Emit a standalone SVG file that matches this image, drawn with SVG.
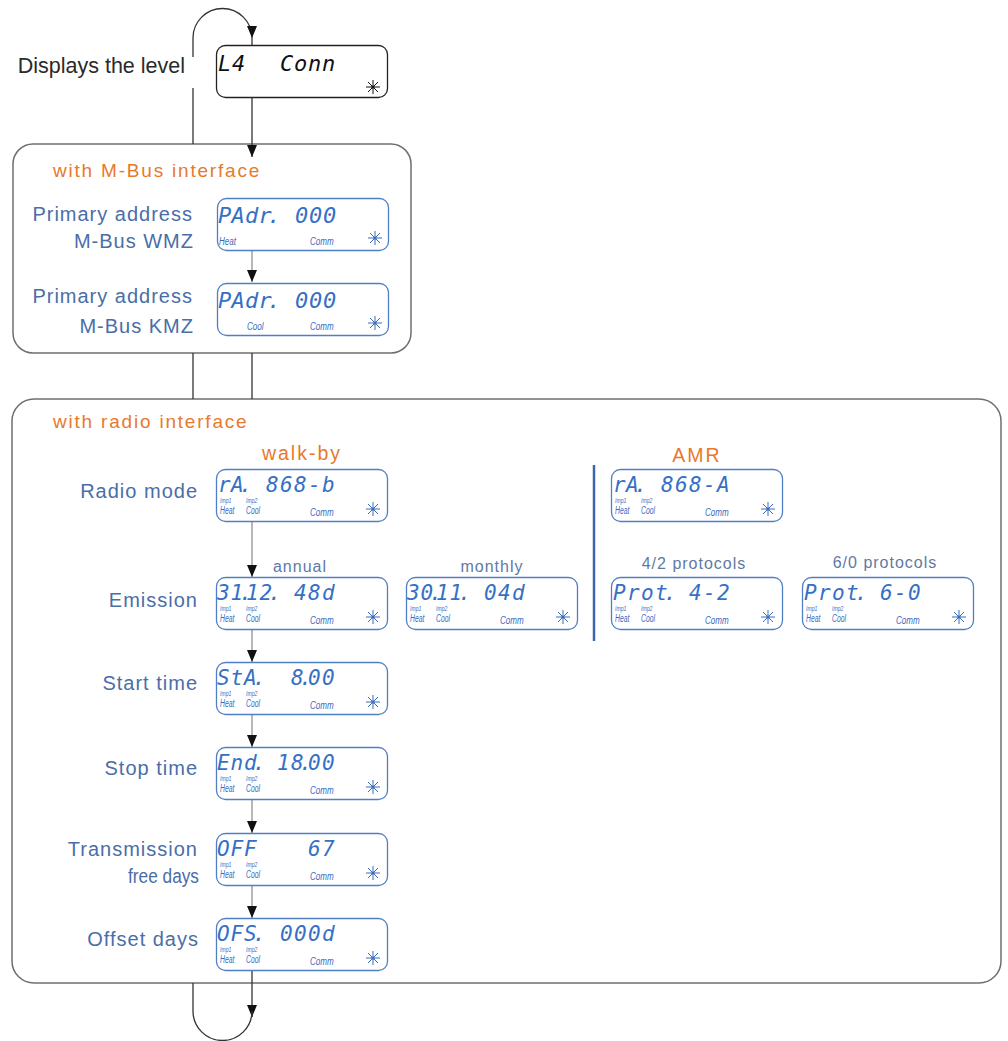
<svg xmlns="http://www.w3.org/2000/svg" xmlns:xlink="http://www.w3.org/1999/xlink" width="1008" height="1041" viewBox="0 0 1008 1041">
<style>
.frame{fill:#fff;stroke:#6f6f73;stroke-width:1.5}
.disp{fill:#fff;stroke:#4f7fc4;stroke-width:1.3}
.dispk{fill:#fff;stroke:#222;stroke-width:1.3}
.lcd{font-family:"DejaVu Sans Mono",monospace;font-style:italic;font-size:22px;fill:#3570c6}
.lcdr{font-family:"DejaVu Sans Mono",monospace;font-style:italic;font-size:21px;fill:#3570c6}
.lcdk{font-family:"DejaVu Sans Mono",monospace;font-style:italic;font-size:22px;fill:#111}
.sm{font-family:"Liberation Sans",Arial,sans-serif;font-style:italic;font-size:11.5px;fill:#3a6bbf}
.sr{font-family:"Liberation Sans",Arial,sans-serif;font-style:italic;font-size:10px;fill:#3a6bbf}
.si{font-family:"Liberation Sans",Arial,sans-serif;font-style:italic;font-size:7.5px;fill:#3a6bbf}
.lbl{font-family:"Liberation Sans",Arial,sans-serif;font-size:20px;letter-spacing:1px;fill:#4a6ea8;text-anchor:end}
.sub{font-family:"Liberation Sans",Arial,sans-serif;font-size:16px;letter-spacing:1px;fill:#5f7aa3;text-anchor:middle}
.org{font-family:"Liberation Sans",Arial,sans-serif;font-size:19px;letter-spacing:1.8px;fill:#e8792c}
.orgc{font-family:"Liberation Sans",Arial,sans-serif;font-size:19.5px;letter-spacing:2px;fill:#e8792c;text-anchor:middle}
.ln{fill:none;stroke:#333;stroke-width:1.3}
.lg{fill:none;stroke:#888;stroke-width:1.2}
</style>
<defs>
<marker id="ah" markerUnits="userSpaceOnUse" viewBox="0 0 12 10" markerWidth="12" markerHeight="10" refX="12" refY="5" orient="auto">
<path d="M0,0 L12,5 L0,10 z" fill="#111"/>
</marker>
<g id="star" style="stroke:currentColor;stroke-width:1">
<line x1="-7" y1="0" x2="7" y2="0"/>
<line x1="0" y1="-7" x2="0" y2="7"/>
<line x1="-5" y1="-5" x2="5" y2="5"/>
<line x1="-5" y1="5" x2="5" y2="-5"/>
<circle r="1.6" fill="currentColor" stroke="none"/>
</g>
</defs>

<!-- frames -->
<g id="mbus-box">
<rect class="frame" x="13" y="144" width="398" height="209" rx="20"/>
<text class="org" x="53" y="177">with M-Bus interface</text>
</g>
<g id="radio-box">
<rect class="frame" x="12" y="399" width="989" height="584" rx="22"/>
<text class="org" x="53" y="428">with radio interface</text>
<text class="orgc" x="302" y="460">walk-by</text>
<text class="orgc" x="697" y="462">AMR</text>
<line x1="594" y1="465" x2="594" y2="641" stroke="#3d66a8" stroke-width="2.5"/>
<text class="sub" x="300" y="572">annual</text>
<text class="sub" x="492" y="572">monthly</text>
<text class="sub" x="694" y="569">4/2 protocols</text>
<text class="sub" x="885" y="568">6/0 protocols</text>
</g>

<!-- labels -->
<g id="labels">
<text x="185" y="73" font-family="'Liberation Sans',Arial,sans-serif" font-size="21.5" fill="#2a2a2a" text-anchor="end">Displays the level</text>
<text class="lbl" x="193" y="221">Primary address</text>
<text class="lbl" x="194" y="248">M-Bus WMZ</text>
<text class="lbl" x="193" y="303">Primary address</text>
<text class="lbl" x="194" y="333">M-Bus KMZ</text>
<text class="lbl" x="198" y="498">Radio mode</text>
<text class="lbl" x="198" y="607">Emission</text>
<text class="lbl" x="198" y="690">Start time</text>
<text class="lbl" x="198" y="775">Stop time</text>
<text class="lbl" x="198" y="856">Transmission</text>
<text class="lbl" x="199" y="883" textLength="71" lengthAdjust="spacingAndGlyphs" style="letter-spacing:0">free days</text>
<text class="lbl" x="199" y="946">Offset days</text>
</g>

<!-- connectors -->
<g id="connectors">
<path class="ln" d="M193,57 L193,38 A29.5,29.5 0 0 1 252,38" marker-end="url(#ah)"/>
<line class="ln" x1="193" y1="88" x2="193" y2="144"/>
<line class="ln" x1="252" y1="38" x2="252" y2="157" marker-end="url(#ah)"/>
<line class="lg" x1="252" y1="250" x2="252" y2="282" marker-end="url(#ah)"/>
<line class="ln" x1="193" y1="353" x2="193" y2="399"/>
<line class="ln" x1="252" y1="353" x2="252" y2="399"/>
<line class="lg" x1="252" y1="521" x2="252" y2="577" marker-end="url(#ah)"/>
<line class="lg" x1="252" y1="629" x2="252" y2="662" marker-end="url(#ah)"/>
<line class="lg" x1="252" y1="714" x2="252" y2="747" marker-end="url(#ah)"/>
<line class="lg" x1="252" y1="799" x2="252" y2="833" marker-end="url(#ah)"/>
<line class="lg" x1="252" y1="885" x2="252" y2="918" marker-end="url(#ah)"/>
<line class="ln" x1="252" y1="970" x2="252" y2="1017" marker-end="url(#ah)"/>
<path class="ln" d="M193,983 L193,1011 A29.5,29.5 0 0 0 252,1011 L252,1017"/>
</g>

<!-- nodes -->
<g id="disp-level" transform="translate(216,45)">
<rect class="dispk" x="0.5" y="0.5" width="171" height="52" rx="9"/>
<text class="lcdk" x="2 16" y="26">L4</text>
<text class="lcdk" x="64 78 92 106" y="26">Conn</text>
<use href="#star" x="157" y="42" style="color:#111"/>
</g>

<g id="disp-mbus-wmz" transform="translate(217,198)">
<rect class="disp" x="0.5" y="0.5" width="171" height="52" rx="9"/>
<text class="lcd" x="1 14.5 28 41.5 50.5 78 92 106" y="25">PAdr.000</text>
<text class="sm" transform="translate(2,0) scale(0.7,1)" x="0" y="47">Heat</text>
<text class="sm" transform="translate(93,0) scale(0.7,1)" x="0" y="47">Comm</text>
<use href="#star" x="158" y="40" style="color:#3a6bbf"/>
</g>

<g id="disp-mbus-kmz" transform="translate(217,283)">
<rect class="disp" x="0.5" y="0.5" width="171" height="52" rx="9"/>
<text class="lcd" x="1 14.5 28 41.5 50.5 78 92 106" y="25">PAdr.000</text>
<text class="sm" transform="translate(30,0) scale(0.7,1)" x="0" y="47">Cool</text>
<text class="sm" transform="translate(93,0) scale(0.7,1)" x="0" y="47">Comm</text>
<use href="#star" x="158" y="40" style="color:#3a6bbf"/>
</g>

<g id="disp-radio-walkby" transform="translate(216,469)">
<rect class="disp" x="0.5" y="0.5" width="171" height="52" rx="9"/>
<text class="lcdr" x="2 15 23.5 50 64 78 92 106" y="22.5">rA.868-b</text>
<text class="si" transform="translate(4,0) scale(0.68,1)" x="0" y="34">Imp1</text>
<text class="sr" transform="translate(4,0) scale(0.68,1)" x="0" y="45.5">Heat</text>
<text class="si" transform="translate(30,0) scale(0.68,1)" x="0" y="34">Imp2</text>
<text class="sr" transform="translate(30,0) scale(0.68,1)" x="0" y="45.5">Cool</text>
<text class="sm" transform="translate(94,0) scale(0.7,1)" x="0" y="47">Comm</text>
<use href="#star" x="157" y="40" style="color:#3a6bbf"/>
</g>

<g id="disp-emission-annual" transform="translate(216,577)">
<rect class="disp" x="0.5" y="0.5" width="171" height="52" rx="9"/>
<text class="lcdr" x="1 14.5 23.5 30 43.5 52.5 78 92 106" y="22.5">31.12.48d</text>
<text class="si" transform="translate(4,0) scale(0.68,1)" x="0" y="34">Imp1</text>
<text class="sr" transform="translate(4,0) scale(0.68,1)" x="0" y="45.5">Heat</text>
<text class="si" transform="translate(30,0) scale(0.68,1)" x="0" y="34">Imp2</text>
<text class="sr" transform="translate(30,0) scale(0.68,1)" x="0" y="45.5">Cool</text>
<text class="sm" transform="translate(94,0) scale(0.7,1)" x="0" y="47">Comm</text>
<use href="#star" x="157" y="40" style="color:#3a6bbf"/>
</g>

<g id="disp-emission-monthly" transform="translate(406,577)">
<rect class="disp" x="0.5" y="0.5" width="171" height="52" rx="9"/>
<text class="lcdr" x="1 14.5 23.5 30 43.5 52.5 78 92 106" y="22.5">30.11.04d</text>
<text class="si" transform="translate(4,0) scale(0.68,1)" x="0" y="34">Imp1</text>
<text class="sr" transform="translate(4,0) scale(0.68,1)" x="0" y="45.5">Heat</text>
<text class="si" transform="translate(30,0) scale(0.68,1)" x="0" y="34">Imp2</text>
<text class="sr" transform="translate(30,0) scale(0.68,1)" x="0" y="45.5">Cool</text>
<text class="sm" transform="translate(94,0) scale(0.7,1)" x="0" y="47">Comm</text>
<use href="#star" x="157" y="40" style="color:#3a6bbf"/>
</g>

<g id="disp-start" transform="translate(216,662)">
<rect class="disp" x="0.5" y="0.5" width="171" height="52" rx="9"/>
<text class="lcdr" x="1 14.5 28 37 75 83.5 92 106" y="22.5">StA.8.00</text>
<text class="si" transform="translate(4,0) scale(0.68,1)" x="0" y="34">Imp1</text>
<text class="sr" transform="translate(4,0) scale(0.68,1)" x="0" y="45.5">Heat</text>
<text class="si" transform="translate(30,0) scale(0.68,1)" x="0" y="34">Imp2</text>
<text class="sr" transform="translate(30,0) scale(0.68,1)" x="0" y="45.5">Cool</text>
<text class="sm" transform="translate(94,0) scale(0.7,1)" x="0" y="47">Comm</text>
<use href="#star" x="157" y="40" style="color:#3a6bbf"/>
</g>

<g id="disp-stop" transform="translate(216,747)">
<rect class="disp" x="0.5" y="0.5" width="171" height="52" rx="9"/>
<text class="lcdr" x="1 14.5 28 37 61 75 83.5 92 106" y="22.5">End.18.00</text>
<text class="si" transform="translate(4,0) scale(0.68,1)" x="0" y="34">Imp1</text>
<text class="sr" transform="translate(4,0) scale(0.68,1)" x="0" y="45.5">Heat</text>
<text class="si" transform="translate(30,0) scale(0.68,1)" x="0" y="34">Imp2</text>
<text class="sr" transform="translate(30,0) scale(0.68,1)" x="0" y="45.5">Cool</text>
<text class="sm" transform="translate(94,0) scale(0.7,1)" x="0" y="47">Comm</text>
<use href="#star" x="157" y="40" style="color:#3a6bbf"/>
</g>

<g id="disp-transmission" transform="translate(216,833)">
<rect class="disp" x="0.5" y="0.5" width="171" height="52" rx="9"/>
<text class="lcdr" x="1 14.5 28 92 106" y="22.5">OFF67</text>
<text class="si" transform="translate(4,0) scale(0.68,1)" x="0" y="34">Imp1</text>
<text class="sr" transform="translate(4,0) scale(0.68,1)" x="0" y="45.5">Heat</text>
<text class="si" transform="translate(30,0) scale(0.68,1)" x="0" y="34">Imp2</text>
<text class="sr" transform="translate(30,0) scale(0.68,1)" x="0" y="45.5">Cool</text>
<text class="sm" transform="translate(94,0) scale(0.7,1)" x="0" y="47">Comm</text>
<use href="#star" x="157" y="40" style="color:#3a6bbf"/>
</g>

<g id="disp-offset" transform="translate(216,918)">
<rect class="disp" x="0.5" y="0.5" width="171" height="52" rx="9"/>
<text class="lcdr" x="1 14.5 28 37 64 78 92 106" y="22.5">OFS.000d</text>
<text class="si" transform="translate(4,0) scale(0.68,1)" x="0" y="34">Imp1</text>
<text class="sr" transform="translate(4,0) scale(0.68,1)" x="0" y="45.5">Heat</text>
<text class="si" transform="translate(30,0) scale(0.68,1)" x="0" y="34">Imp2</text>
<text class="sr" transform="translate(30,0) scale(0.68,1)" x="0" y="45.5">Cool</text>
<text class="sm" transform="translate(94,0) scale(0.7,1)" x="0" y="47">Comm</text>
<use href="#star" x="157" y="40" style="color:#3a6bbf"/>
</g>

<g id="disp-radio-amr" transform="translate(611,469)">
<rect class="disp" x="0.5" y="0.5" width="171" height="52" rx="9"/>
<text class="lcdr" x="2 15 23.5 50 64 78 92 106" y="22.5">rA.868-A</text>
<text class="si" transform="translate(4,0) scale(0.68,1)" x="0" y="34">Imp1</text>
<text class="sr" transform="translate(4,0) scale(0.68,1)" x="0" y="45.5">Heat</text>
<text class="si" transform="translate(30,0) scale(0.68,1)" x="0" y="34">Imp2</text>
<text class="sr" transform="translate(30,0) scale(0.68,1)" x="0" y="45.5">Cool</text>
<text class="sm" transform="translate(94,0) scale(0.7,1)" x="0" y="47">Comm</text>
<use href="#star" x="157" y="40" style="color:#3a6bbf"/>
</g>

<g id="disp-prot-42" transform="translate(611,577)">
<rect class="disp" x="0.5" y="0.5" width="171" height="52" rx="9"/>
<text class="lcdr" x="2 16 30 44 53 78 92 106" y="22.5">Prot.4-2</text>
<text class="si" transform="translate(4,0) scale(0.68,1)" x="0" y="34">Imp1</text>
<text class="sr" transform="translate(4,0) scale(0.68,1)" x="0" y="45.5">Heat</text>
<text class="si" transform="translate(30,0) scale(0.68,1)" x="0" y="34">Imp2</text>
<text class="sr" transform="translate(30,0) scale(0.68,1)" x="0" y="45.5">Cool</text>
<text class="sm" transform="translate(94,0) scale(0.7,1)" x="0" y="47">Comm</text>
<use href="#star" x="157" y="40" style="color:#3a6bbf"/>
</g>

<g id="disp-prot-60" transform="translate(802,577)">
<rect class="disp" x="0.5" y="0.5" width="171" height="52" rx="9"/>
<text class="lcdr" x="2 16 30 44 53 78 92 106" y="22.5">Prot.6-0</text>
<text class="si" transform="translate(4,0) scale(0.68,1)" x="0" y="34">Imp1</text>
<text class="sr" transform="translate(4,0) scale(0.68,1)" x="0" y="45.5">Heat</text>
<text class="si" transform="translate(30,0) scale(0.68,1)" x="0" y="34">Imp2</text>
<text class="sr" transform="translate(30,0) scale(0.68,1)" x="0" y="45.5">Cool</text>
<text class="sm" transform="translate(94,0) scale(0.7,1)" x="0" y="47">Comm</text>
<use href="#star" x="157" y="40" style="color:#3a6bbf"/>
</g>
</svg>
